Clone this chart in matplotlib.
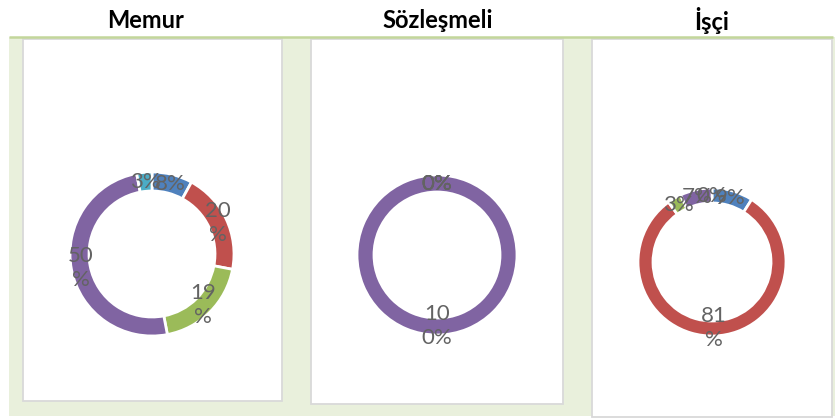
import matplotlib
matplotlib.use("Agg")
import matplotlib.pyplot as plt
from matplotlib.patches import Rectangle
import numpy as np

# ---- data ----
titles = ["Memur", "Sözleşmeli", "İşçi"]
series = ["Seri 1", "Seri 2", "Seri 3", "Seri 4", "Seri 5"]
memur = [8, 20, 19, 50, 3]
sozlesmeli = [0, 0, 0, 100, 0]
isci = [9, 81, 3, 7, 0]
all_values = [memur, sozlesmeli, isci]
colors = ["#4f81bd", "#c0504d", "#9bbb59", "#8064a2", "#4bacc6"]

W, H = 835, 419
fig = plt.figure(figsize=(W / 100, H / 100), dpi=100)
fig.patch.set_facecolor("white")

def fx(x): return x / W
def fy(y): return 1 - y / H

bg = fig.add_axes([0, 0, 1, 1])
bg.set_xlim(0, W); bg.set_ylim(H, 0); bg.axis("off")

# green band
bg.add_patch(Rectangle((9, 37), W - 9, 379, facecolor="#e9f0dc", edgecolor="none"))
bg.plot([9, 833], [37.5, 37.5], color="#c3d69b", lw=1.8, solid_capstyle="butt")
# white panels
panels = [(23, 39, 259, 362), (311, 39, 252, 365), (592, 39, 240, 378)]
for (x, y, w, h) in panels:
    bg.add_patch(Rectangle((x, y), w, h, facecolor="white", edgecolor="#d9d9d9", lw=1.3))

title_pos = [(146, 20), (438, 20), (712, 20)]
for t, (x, y) in zip(titles, title_pos):
    bg.text(x, y, t, ha="center", va="center", fontsize=17, fontweight="bold",
            family="Lato", color="black")

donuts = [(152, 254, 82, 19), (437, 255, 80, 17), (712, 262, 74, 15)]

def wrap(s, n=2):
    return "\n".join(s[i:i + n] for i in range(0, len(s), n))

for vals, (cx, cy, R, ring) in zip(all_values, donuts):
    ax = fig.add_axes([fx(cx - R), fy(cy + R), 2 * R / W, 2 * R / H])
    ax.set_xlim(-1, 1); ax.set_ylim(-1, 1); ax.axis("off")
    width = ring / R
    nz = [(v, c) for v, c in zip(vals, colors) if v > 0]
    ax.pie([v for v, _ in nz], colors=[c for _, c in nz], radius=1,
           startangle=90, counterclock=False,
           wedgeprops=dict(width=width, edgecolor="white", linewidth=2))
    ax.set_xlim(-1, 1); ax.set_ylim(-1, 1)
    total = sum(vals)
    cum = 0
    rm = 1 - width / 2
    for v in vals:
        mid = (cum + v / 2) / total * 2 * np.pi
        cum += v
        x = rm * np.sin(mid)
        y = rm * np.cos(mid)
        ax.text(x, y, wrap(f"{v}%"), ha="center", va="center", fontsize=16,
                family="Lato", color="#636363", linespacing=1.25, clip_on=False)

fig.savefig("out.png", dpi=100)
